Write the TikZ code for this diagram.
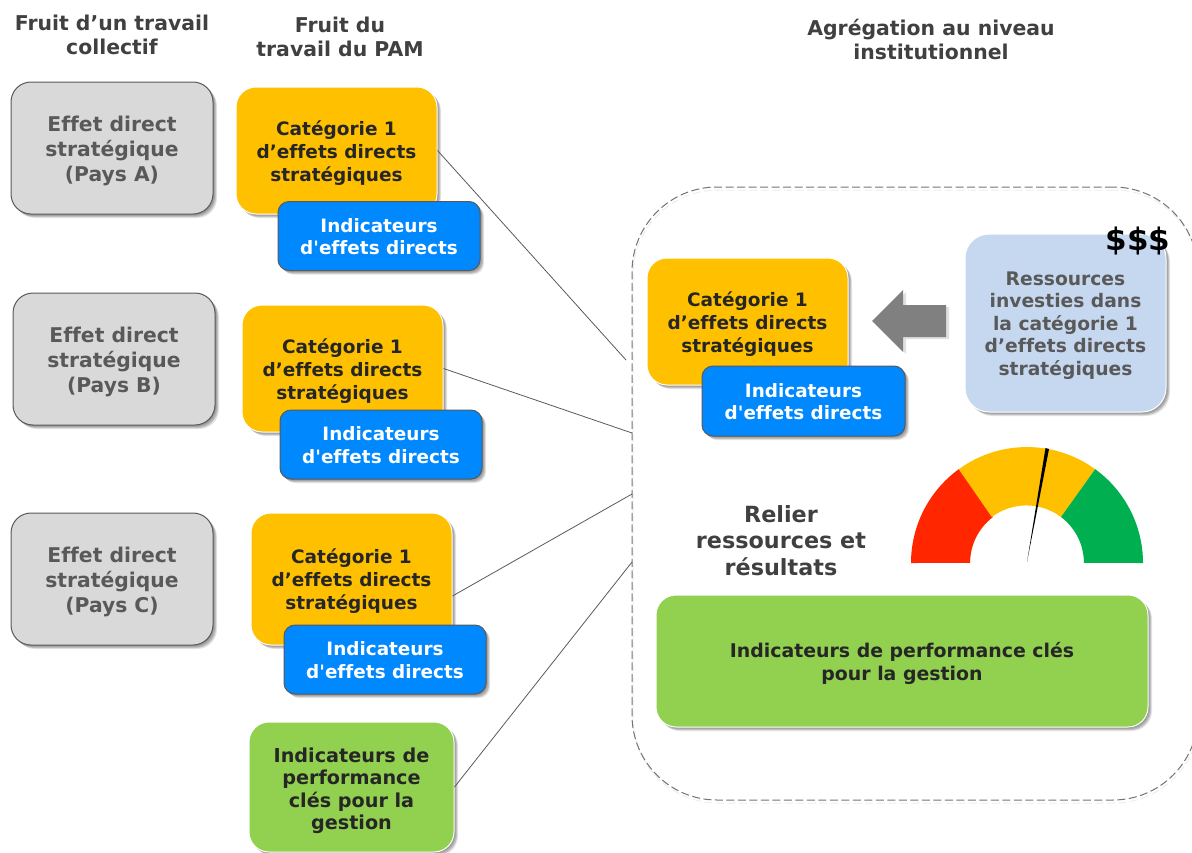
\documentclass[tikz,border=0pt]{standalone}
\usepackage{fontspec}
\setmainfont{DejaVu Sans}[Ligatures={NoCommon,TeXOff}]
\usetikzlibrary{shadows}
\definecolor{grayfill}{HTML}{D9D9D9}
\definecolor{orangefill}{HTML}{FFC000}
\definecolor{bluefill}{HTML}{0088FF}
\definecolor{lightfill}{HTML}{C6D8F0}
\definecolor{greenfill}{HTML}{92D050}
\definecolor{headtxt}{HTML}{404040}
\definecolor{graytxt}{HTML}{595959}
\definecolor{darktxt}{HTML}{262626}
\newcommand{\topup}[1]{\rule{0pt}{#1pt}}
\tikzset{
  softshadow/.style={
    general shadow={fill=black,opacity=.10,shadow xshift=1pt,shadow yshift=-1pt},
    general shadow={fill=black,opacity=.13,shadow xshift=2pt,shadow yshift=-2pt},
    general shadow={fill=black,opacity=.15,shadow xshift=3pt,shadow yshift=-3pt},
    general shadow={fill=black,opacity=.11,shadow xshift=4pt,shadow yshift=-4pt}},
  boxbase/.style={softshadow,inner sep=0pt,align=center,font=\bfseries},
  graybox/.style={boxbase,fill=grayfill,draw=black!65,line width=1pt,rounded corners=20pt,
    minimum width=202pt,minimum height=132pt,text=graytxt,font=\bfseries\fontsize{20.3}{25}\selectfont},
  catbox/.style={boxbase,fill=orangefill,draw=white,line width=1pt,rounded corners=20pt,
    minimum width=201pt,text=darktxt,font=\bfseries\fontsize{18.5}{22.8}\selectfont},
  indbox/.style={boxbase,fill=bluefill,draw=black!65,line width=1pt,rounded corners=11pt,
    minimum width=202pt,minimum height=69pt,text=white,font=\bfseries\fontsize{18.4}{22.5}\selectfont},
  kpibox/.style={boxbase,fill=greenfill,draw=white,line width=1pt,rounded corners=20pt,text=darktxt,
    font=\bfseries\fontsize{18.9}{22.8}\selectfont},
  resbox/.style={boxbase,fill=lightfill,draw=white,line width=1pt,rounded corners=24pt,
    minimum width=201pt,minimum height=178pt,text=graytxt,font=\bfseries\fontsize{18.7}{22.5}\selectfont},
  heading/.style={align=center,inner sep=0pt,text=headtxt,font=\bfseries\fontsize{20.4}{24.5}\selectfont},
  link/.style={draw=graytxt,line width=.8pt},
}
\begin{document}
\begin{tikzpicture}[x=1pt,y=-1pt]
\useasboundingbox (0,0) rectangle (1192,852);
% headings
\node[heading] (h1) at (112,35) {Fruit d’un travail\\collectif};
\node[heading] (h2) at (340,37) {Fruit du\\travail du PAM};
\node[heading] (h3) at (931,39.5) {Agrégation au niveau\\institutionnel};
% aggregation frame
\node[draw=black!55,dash pattern=on 8pt off 3.5pt,line width=1pt,rounded corners=85pt,minimum width=566pt,minimum height=613pt,inner sep=0pt,
  general shadow={draw=black,opacity=.07,dash pattern=on 8pt off 3.5pt,shadow xshift=1pt,shadow yshift=-3pt}] (frame) at (915,493.5) {};
% free ends of connectors
\coordinate (e1) at (626,360);
\coordinate (e2) at (632,433);
\coordinate (e3) at (632,494);
\coordinate (e4) at (632,562);
% left column
\node[graybox] (ga) at (112,148) {\topup{21.5}Effet direct\\stratégique\\(Pays A)};
\node[graybox] (gb) at (114,359) {\topup{21.5}Effet direct\\stratégique\\(Pays B)};
\node[graybox] (gc) at (112,579) {\topup{21.5}Effet direct\\stratégique\\(Pays C)};
% middle column
\node[catbox,minimum height=127pt] (c1) at (336.5,150.5) {\topup{19.5}Catégorie 1\\d’effets directs\\stratégiques};
\node[indbox] (i1) at (379,236) {\topup{15}Indicateurs\\d'effets directs};
\node[catbox,minimum height=127pt] (c2) at (342.5,368.5) {\topup{19.5}Catégorie 1\\d’effets directs\\stratégiques};
\node[indbox] (i2) at (381,444.5) {\topup{15}Indicateurs\\d'effets directs};
\node[catbox,minimum height=132pt] (c3) at (351.5,579) {\topup{19}Catégorie 1\\d’effets directs\\stratégiques};
\node[indbox] (i3) at (385,659.5) {\topup{15}Indicateurs\\d'effets directs};
\node[kpibox,minimum width=205pt,minimum height=130pt,font=\bfseries\fontsize{19.2}{22.5}\selectfont] (k1) at (351.5,787) {\topup{22}Indicateurs de\\performance\\clés pour la\\gestion};
% connectors
\draw[link] (c1.east) -- (e1);
\draw[link] (c2.east) -- (e2);
\draw[link] ([yshift=-17pt]c3.east) -- (e3);
\draw[link] (k1.east) -- (e4);
% right part
\node[catbox,minimum height=127pt] (c4) at (747.5,321.5) {\topup{19.5}Catégorie 1\\d’effets directs\\stratégiques};
\node[indbox,minimum width=203pt,minimum height=70pt] (i4) at (803.5,401) {\topup{15}Indicateurs\\d'effets directs};
\node[resbox] (res) at (1065.5,323) {\topup{19}Ressources\\investies dans\\la catégorie 1\\d’effets directs\\stratégiques};
\node[inner sep=0pt,text=black,font=\bfseries\fontsize{31}{31}\selectfont] (money) at (1138,241) {\$\$\$};
% block arrow
\fill[fill=black,opacity=.12] (875,323) -- (906,292) -- (906,307) -- (949,307) -- (949,339) -- (906,339) -- (906,354) -- cycle;
\fill[fill=black!50] (872,321) -- (903,290) -- (903,305) -- (946,305) -- (946,337) -- (903,337) -- (903,352) -- cycle;
% gauge
\fill[fill={rgb,255:red,255;green,38;blue,0}] (911,563) arc[start angle=180,end angle=234,radius=116] -- (993,517) arc[start angle=233,end angle=180,radius=57.5] -- cycle;
\fill[fill=orangefill] (958.8,469.2) arc[start angle=234,end angle=306,radius=116] -- (1061,517) arc[start angle=307,end angle=233,radius=57.5] -- cycle;
\fill[fill={rgb,255:red,0;green,176;blue,80}] (1143,563) arc[start angle=360,end angle=306,radius=116] -- (1061,517) arc[start angle=307,end angle=360,radius=57.5] -- cycle;
\fill[black] (1027,562) -- (1045.5,448) -- (1049,449) -- cycle;
\node[inner sep=0pt,align=center,text=headtxt,font=\bfseries\fontsize{22.3}{26.5}\selectfont] (link) at (781,540.5) {Relier\\ressources et\\résultats};
\node[kpibox,minimum width=492pt,minimum height=132pt] (k2) at (902,661) {\topup{19.5}Indicateurs de performance clés\\pour la gestion};
\end{tikzpicture}
\end{document}
